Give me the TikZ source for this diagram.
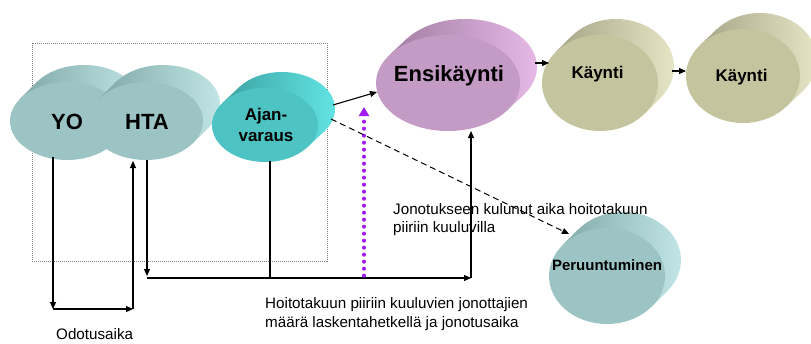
\documentclass[tikz,border=0pt]{standalone}
\usepackage{fontspec}
\setmainfont{Liberation Sans}
\usetikzlibrary{arrows.meta}
\definecolor{tealF}{HTML}{9CC4C4}
\definecolor{tealD}{HTML}{7BA3A3}
\definecolor{tealL}{HTML}{C2E6E6}
\definecolor{cyanF}{HTML}{4DC3C3}
\definecolor{cyanD}{HTML}{389C9C}
\definecolor{cyanL}{HTML}{62E4E4}
\definecolor{plumF}{HTML}{C49BC5}
\definecolor{plumD}{HTML}{9C789C}
\definecolor{plumL}{HTML}{E6B9E6}
\definecolor{oliveF}{HTML}{C4C49E}
\definecolor{oliveD}{HTML}{9E9E80}
\definecolor{oliveL}{HTML}{E6E6C6}
\definecolor{purp}{HTML}{A21CF2}
% cx cy rx ry dx dy darkside lightside front
\newcommand\cylshape[9]{%
  \pgfmathsetmacro\cyt{atan((#4*#5)/(#3*#6))}%
  \pgfmathsetmacro\cpx{#3*cos(\cyt)}%
  \pgfmathsetmacro\cpy{#4*sin(\cyt)}%
  \begin{scope}
    \clip ({#1+\cpx},{#2+\cpy}) -- ({#1+\cpx+#5},{#2+\cpy-#6}) -- ({#1-\cpx+#5},{#2-\cpy-#6}) -- ({#1-\cpx},{#2-\cpy}) -- cycle;
    \shade[left color=#7,right color=#8] ({#1-#3-1},{#2-#4-#6-1}) rectangle ({#1+#3+#5+1},{#2+#4+1});
  \end{scope}
  \begin{scope}
    \clip ({#1+#5},{#2-#6}) ellipse [x radius=#3, y radius=#4];
    \shade[left color=#7,right color=#8] ({#1-#3-1},{#2-#4-#6-1}) rectangle ({#1+#3+#5+1},{#2+#4+1});
  \end{scope}
  \fill[#9] (#1,#2) ellipse [x radius=#3, y radius=#4];
}
\tikzset{
  conn/.style={line width=1.1pt,-{Triangle[length=7pt,width=6pt]}},
  plainline/.style={line width=1.1pt},
  lbl/.style={font=\fontsize{15.2}{18}\selectfont,inner sep=0pt,anchor=base west},
  shapelbl/.style={font=\bfseries\fontsize{#1}{#1}\selectfont,inner sep=0pt,align=center},
}
\begin{document}
\begin{tikzpicture}[x=1pt,y=-1pt]
\fill[white] (0,0) rectangle (811,343);
\useasboundingbox (0,0) rectangle (811,343);

% dotted frame
\draw[gray,line width=0.7pt,dash pattern=on 1pt off 1pt] (32,43) rectangle (327,261);

% shapes
\cylshape{67}{121}{57}{39}{17}{17}{tealD}{tealL}{tealF}
\cylshape{146}{121}{57}{39}{17}{17}{tealD}{tealL}{tealF}
\cylshape{265}{125}{53}{37}{17}{16}{cyanD}{cyanL}{cyanF}
\cylshape{448}{83}{72}{48}{17}{16}{plumD}{plumL}{plumF}
\cylshape{600}{83}{58}{48}{16}{16}{oliveD}{oliveL}{oliveF}
\cylshape{743}{76}{57}{47}{17}{16}{oliveD}{oliveL}{oliveF}
\cylshape{607}{276}{58}{48}{16}{16}{tealD}{tealL}{tealF}

% shape labels
\node[shapelbl=22] (yo) at (67,122) {YO};
\node[shapelbl=22] (hta) at (147,122) {HTA};
\node[font=\bfseries\fontsize{17}{21}\selectfont,inner sep=0pt,align=center] (aj) at (266,124.5) {Ajan-\\varaus};
\node[shapelbl=22] (ens) at (449,76) {Ensikäynti};
\node[shapelbl=17] (k1) at (597.5,74.5) {Käynti};
\node[shapelbl=17] (k2) at (741.5,77) {Käynti};
\node[shapelbl=15] (per) at (607,265.5) {Peruuntuminen};

% connector points
\coordinate (yoB) at (53,157);
\coordinate (yoC) at (53,309);
\coordinate (htaC) at (133,309);
\coordinate (htaIn) at (133,161);
\coordinate (htaB) at (147,160);
\coordinate (htaD) at (147,276);
\coordinate (htaE) at (147,278);
\coordinate (ensC) at (471,278);
\coordinate (ensIn) at (471,131);
\coordinate (ajB) at (270,161);
\coordinate (ajD) at (270,278);
\coordinate (purB) at (364,276);
\coordinate (purT) at (364,107);
\coordinate (ajR) at (333,105);
\coordinate (ensL) at (377,92);
\coordinate (ajR2) at (331,119);
\coordinate (perIn) at (569,234);
\coordinate (ensR) at (535,63);
\coordinate (k1L) at (549,63);
\coordinate (k1R) at (672,71);
\coordinate (k2L) at (686,71);

% connectors
\draw[conn] (yoB) -- (yoC);
\draw[conn] (yoC) -- (htaC);
\draw[conn] (htaC) -- (htaIn);
\draw[conn] (htaB) -- (htaD);
\draw[conn] (htaE) -- (ensC);
\draw[conn] (ensC) -- (ensIn);
\draw[plainline] (ajB) -- (ajD);
\draw[purp,line width=3.4pt,line cap=round,dash pattern=on 0.6pt off 6.4pt,-{Triangle[length=9pt,width=10pt]}] (purB) -- (purT);
\draw[conn] (ajR) -- (ensL);
\draw[line width=1pt,dash pattern=on 6pt off 4pt,-{Triangle[length=7pt,width=6pt]}] (ajR2) -- (perIn);
\draw[conn] (ensR) -- (k1L);
\draw[conn] (k1R) -- (k2L);

% texts
\node[lbl] (t1a) at (393,214) {Jonotukseen kulunut aika hoitotakuun};
\node[lbl] (t1b) at (393,232) {piiriin kuuluvilla};
\node[lbl] (t2a) at (265,308) {Hoitotakuun piiriin kuuluvien jonottajien};
\node[lbl] (t2b) at (265,327) {määrä laskentahetkellä ja jonotusaika};
\node[lbl] (t3) at (56,339.5) {Odotusaika};
\end{tikzpicture}
\end{document}
